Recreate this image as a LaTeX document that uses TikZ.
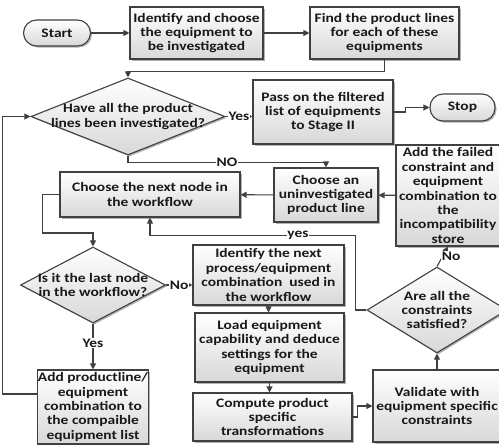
\documentclass[tikz,border=0pt]{standalone}
\usepackage{fontspec}
\newfontfamily\dfont{Carlito}[FakeStretch=1.19]
\usetikzlibrary{arrows.meta,shapes.geometric,shadows,calc}
\definecolor{edge}{HTML}{404040}
\definecolor{fillbot}{HTML}{D8D8D8}
\tikzset{
  txt/.style={font={\dfont\bfseries\fontsize{13}{14.4}\selectfont}, text=black!90, align=center},
  shade/.style={top color=white, bottom color=fillbot},
  shad/.style={drop shadow={shadow xshift=1.5pt, shadow yshift=-1.5pt, opacity=0.3, fill=black}},
  box/.style={txt, shade, shad, draw=edge, line width=1.1pt, inner sep=0pt},
  term/.style={box, rounded corners=13pt},
  dia/.style={shape=diamond, shade, shad, draw=edge, line width=1.1pt, inner sep=0pt},
  dtxt/.style={txt, inner sep=0pt},
  conn/.style={draw=edge, line width=1.1pt},
  arr/.style={conn, -{Triangle[length=6pt,width=6pt]}},
  lbl/.style={txt, fill=white, inner sep=0.8pt}
}
\begin{document}
\begin{tikzpicture}[x=1pt,y=-1pt]
\useasboundingbox (0,0) rectangle (499,445);
% nodes
\node[term, minimum width=67pt, minimum height=26pt] (start) at (57,33) {Start};
\node[box, minimum width=133pt, minimum height=52pt] (idc) at (196.5,33) {Identify and choose\\the equipment to\\be investigated};
\node[box, minimum width=149pt, minimum height=52pt] (find) at (384.5,33) {Find the product lines\\for each of these\\equipments};
\node[dia, minimum width=194pt, minimum height=77pt] (d1) at (128,116.5) {};
\node[dtxt] (d1t) at (d1) {Have all the product\\lines been investigated?};
\node[box, minimum width=140pt, minimum height=64pt] (pass) at (323,112) {Pass on the filtered\\list of equipments\\to Stage II};
\node[term, minimum width=65pt, minimum height=27pt] (stop) at (462.5,107.5) {Stop};
\node[box, minimum width=104pt, minimum height=54pt] (chan) at (326,195) {Choose an\\uninvestigated\\product line};
\node[box, minimum width=104pt, minimum height=101pt] (addf) at (448,195.5) {Add the failed\\constraint and\\equipment\\combination to\\the\\incompatibility\\store};
\node[box, minimum width=180pt, minimum height=45pt] (cnext) at (150,194.5) {Choose the next node in\\the workflow};
\node[dia, minimum width=145pt, minimum height=76pt] (d2) at (93,285) {};
\node[dtxt] (d2t) at (d2) {Is it the last node\\in the workflow?};
\node[box, minimum width=151pt, minimum height=60pt] (idn) at (268.5,275) {Identify the next\\process/equipment\\combination\ \ used in\\the workflow};
\node[box, minimum width=149pt, minimum height=69pt] (load) at (269.5,347.5) {Load equipment\\capability and deduce\\settings for the\\equipment};
\node[box, minimum width=159pt, minimum height=48pt] (comp) at (272.5,417) {Compute product\\specific\\transformations};
\node[box, minimum width=128pt, minimum height=72pt] (val) at (437,406) {Validate with\\equipment specific\\constraints};
\node[dia, minimum width=140pt, minimum height=86pt] (d3) at (437,310) {};
\node[dtxt] (d3t) at (d3) {Are all the\\constraints\\satisfied?};
\node[box, minimum width=100pt, minimum height=74pt] (addp) at (93,407) {Add productline/\\equipment\\combination to\\the compaible\\equipment list};
% connectors
\draw[arr] (start) -- (idc);
\draw[arr] (idc) -- (find);
\draw[arr] (find.south) -- ++(0,12) -| (d1.north);
\draw[arr] (d1.east) -- (d1.east -| pass.west) node[lbl, midway] {Yes};
\draw[arr] (pass.east) -- ++(12,0) |- (stop.west);
\draw[arr] (d1.south) -- ++(0,7) -| (chan.north) node[lbl, pos=0.25] {NO};
\draw[arr] (addf) -- (chan);
\draw[arr] (chan) -- (cnext);
\draw[arr] (cnext.west) -- ++(-17,0) -- ++(0,38.5) -| (d2.north);
\draw[arr] (d2.east) -- (d2.east -| idn.west) node[lbl, midway] {No};
\draw[arr] (idn.south) -- (idn.south |- load.north);
\draw[arr] (load.south) -- (load.south |- comp.north);
\draw[arr] (comp.east) -- ++(5,0) |- (val.west);
\draw[arr] (val.north) -- (d3.south);
\draw[arr] (d3.north) -- (addf.south |- d3.north |- addf.south) node[lbl, midway, right, xshift=-2pt] {No};
\draw[arr] (d3.west) -- ++(-11,0) |- ($(cnext.south)+(0,18)$) node[lbl, pos=0.64] {yes} -- (cnext.south);
\draw[arr] (d2.south) -- (addp.north) node[lbl, pos=0.43] {Yes};
\draw[arr] ([yshift=13pt]addp.west) -- ++(-35,0) |- (d1.west);
\end{tikzpicture}
\end{document}
